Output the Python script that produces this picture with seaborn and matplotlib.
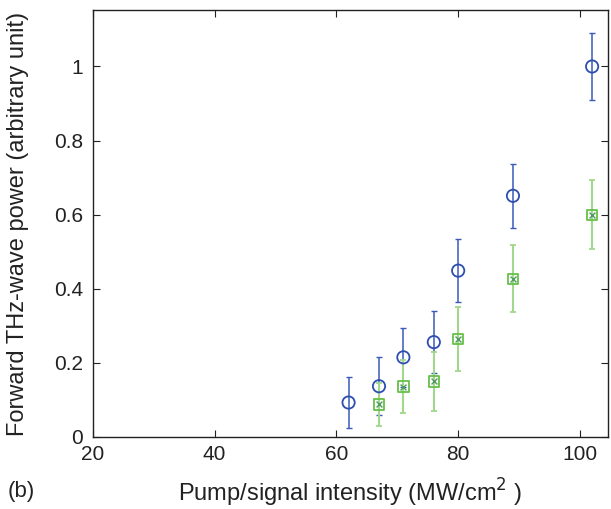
import matplotlib
matplotlib.use("Agg")
import matplotlib.pyplot as plt
import seaborn as sns
import pandas as pd
import numpy as np

blue_x = [62, 67, 71, 76, 80, 89, 102]
blue_y = [0.093, 0.137, 0.215, 0.256, 0.449, 0.651, 1.0]
blue_err = [0.068, 0.078, 0.080, 0.084, 0.085, 0.087, 0.090]

green_x = [67, 71, 76, 80, 89, 102]
green_y = [0.088, 0.136, 0.150, 0.264, 0.427, 0.600]
green_err = [0.058, 0.071, 0.080, 0.086, 0.090, 0.093]

x_ticks = [20, 40, 60, 80, 100]
y_ticks = [0, 0.2, 0.4, 0.6, 0.8, 1.0]
y_ticklabels = ["0", "0.2", "0.4", "0.6", "0.8", "1"]

sns.set_theme(style="ticks")
plt.rcParams['font.family'] = ['Liberation Sans', 'DejaVu Sans']

fig = plt.figure(figsize=(6.11, 5.09), dpi=100)
ax = fig.add_axes([0.152, 0.1415, 0.843, 0.8385])

blue_c = "#2d4db0"
blue_err_c = "#3a5ab8"
green_c = "#66c048"
green_err_c = "#a2d88c"

ax.errorbar(blue_x, blue_y, yerr=blue_err, fmt='none', ecolor=blue_err_c,
            elinewidth=1.1, capsize=2.5, capthick=1.0, zorder=2)
ax.errorbar(green_x, green_y, yerr=green_err, fmt='none', ecolor=green_err_c,
            elinewidth=1.5, capsize=2.5, capthick=1.3, zorder=2)

dfb = pd.DataFrame({"x": blue_x, "y": blue_y})
dfg = pd.DataFrame({"x": green_x, "y": green_y})
sns.scatterplot(data=dfb, x="x", y="y", ax=ax, marker="o", s=78,
                facecolor="none", edgecolor=blue_c, linewidth=1.3, zorder=3)
sns.scatterplot(data=dfg, x="x", y="y", ax=ax, marker="s", s=55,
                facecolor="none", edgecolor=green_c, linewidth=1.3, zorder=3)
sns.scatterplot(data=dfg, x="x", y="y", ax=ax, marker="x", s=18,
                color="#4f9a60", linewidth=1.0, zorder=4)

ax.set_xlim(20, 104.6)
ax.set_ylim(0, 1.152)
ax.set_xticks(x_ticks)
ax.set_yticks(y_ticks)
ax.set_yticklabels(y_ticklabels)
ax.tick_params(direction='in', top=True, right=True, length=5, width=0.8,
               labelsize=15, colors='#222222', labelcolor='#222222')
ax.tick_params(axis='x', pad=6)
ax.tick_params(axis='y', pad=7)
for sp in ax.spines.values():
    sp.set_linewidth(1.0)
    sp.set_color('#222222')

ax.set_xlabel("Pump/signal intensity (MW/cm$^{2}$ )", fontsize=17, color='#222222')
ax.set_ylabel("Forward THz-wave power (arbitrary unit)", fontsize=17, color='#222222')
ax.xaxis.set_label_coords(0.5, -0.093)
ax.yaxis.set_label_coords(-0.124, 0.5)
fig.text(0.013, 0.024, "(b)", fontsize=16, color='#222222')

fig.savefig("out.png", dpi=100)
